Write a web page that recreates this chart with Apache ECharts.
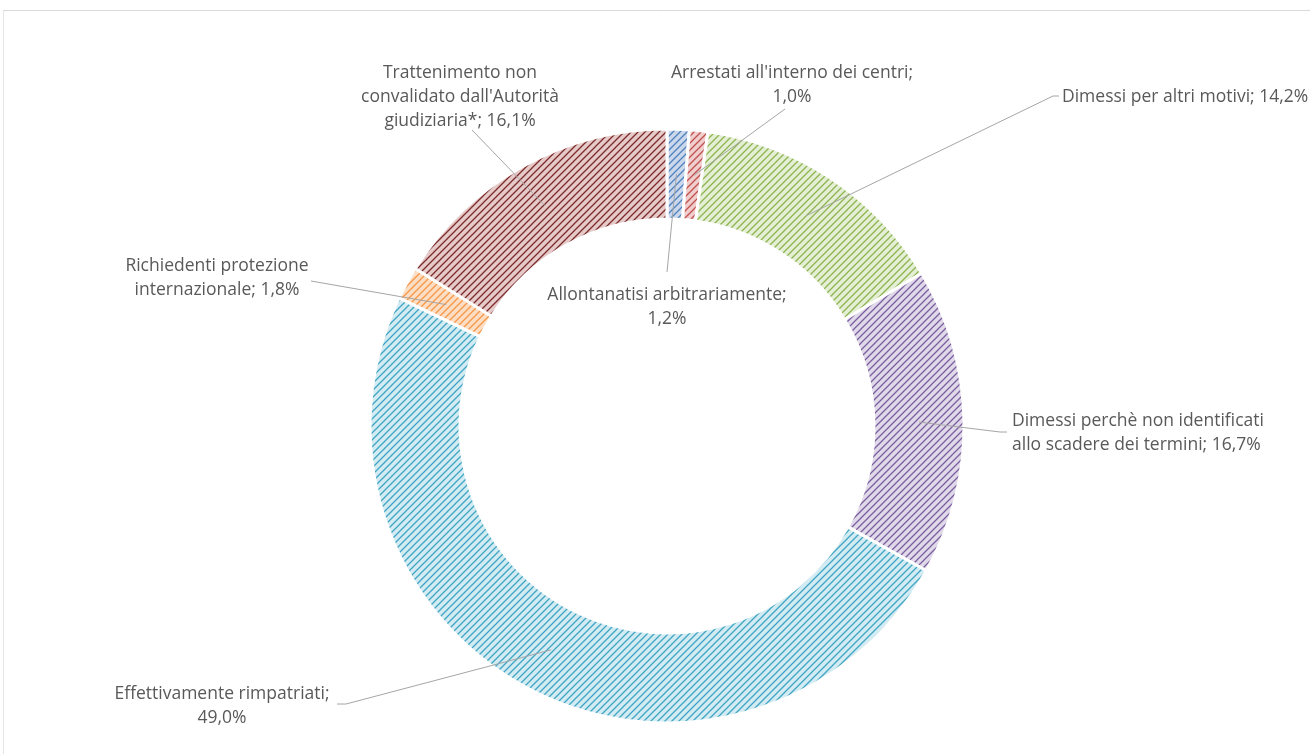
<!DOCTYPE html>
<html>
<head>
<meta charset="utf-8">
<script src="https://cdn.jsdelivr.net/npm/echarts@6/dist/echarts.min.js"></script>
<style>
html,body{margin:0;padding:0;background:#fff;}
#chart{width:1310px;height:754px;}
</style>
</head>
<body>
<div id="chart"></div>
<script>
// ---- data ----
const categories = [
  'Allontanatisi arbitrariamente',
  "Arrestati all'interno dei centri",
  'Dimessi per altri motivi',
  'Dimessi perchè non identificati allo scadere dei termini',
  'Effettivamente rimpatriati',
  'Richiedenti protezione internazionale',
  "Trattenimento non convalidato dall'Autorità giudiziaria*"
];
const values = [1.2, 1.0, 14.2, 16.7, 49.0, 1.8, 16.1];

// ---- styling / layout (not data) ----
const fgColors = ['#4F81BD', '#C0504D', '#8DB44F', '#7A5E9E', '#3FA5C2', '#F79646', '#7B2C2A'];
const bgColors = ['#CBD8EC', '#F0CECD', '#E4EFD5', '#E0D9E9', '#D3EBF2', '#FCDEC5', '#E6CACA'];
const wrapAfter = [[2], [4], [], [4], [2], [2], [2, 4]];
const CX = 667, CY = 426, R_OUT = 297, R_IN = 207;
const labelPlace = [
  {x: 667, y: 283, align: 'center', end: [[667, 272]]},
  {x: 792, y: 61, align: 'center', end: [[785, 109]]},
  {x: 1062, y: 85, align: 'left', end: [[1053, 96], [1059, 96]]},
  {x: 1012, y: 409, align: 'left', end: [[1000, 432], [1007, 432]]},
  {x: 222, y: 682, align: 'center', end: [[346, 704], [337, 704]]},
  {x: 217, y: 254, align: 'center', end: [[311, 281]]},
  {x: 460, y: 61, align: 'center', end: [[472, 130]]}
];

function makePattern(bg, fg) {
  const s = 7;
  const c = document.createElement('canvas');
  c.width = s; c.height = s;
  const g = c.getContext('2d');
  g.fillStyle = bg; g.fillRect(0, 0, s, s);
  g.strokeStyle = fg; g.lineWidth = 1.3;
  g.beginPath();
  for (const k of [-s, 0, s]) {
    g.moveTo(k - 1, s + 1);
    g.lineTo(k + s + 1, -1);
  }
  g.stroke();
  return c;
}

function fmtVal(v) { return v.toFixed(1).replace('.', ',') + '%'; }
function wrapText(text, breaks) {
  const w = text.split(' ');
  let out = '';
  w.forEach((word, i) => {
    if (i > 0) out += breaks.includes(i) ? '\n' : ' ';
    out += word;
  });
  return out;
}

const total = values.reduce((a, b) => a + b, 0);
const midAngles = [];
{
  let acc = 0;
  values.forEach(v => { midAngles.push((acc + v / 2) / total * 2 * Math.PI); acc += v; });
}

const chart = echarts.init(document.getElementById('chart'), null, {renderer: 'canvas'});
const sliceData = categories.map((name, i) => ({
  name: name,
  value: values[i],
  itemStyle: {color: {image: makePattern(bgColors[i], fgColors[i]), repeat: 'repeat'}}
}));
const labelData = categories.map((name, i) => ({name: name, value: values[i]}));

chart.setOption({
  animation: false,
  backgroundColor: '#ffffff',
  graphic: [
    {type: 'line', shape: {x1: 3, y1: 10.5, x2: 1310, y2: 10.5}, style: {stroke: '#D9D9D9', lineWidth: 1}},
    {type: 'line', shape: {x1: 3.5, y1: 10.5, x2: 3.5, y2: 754}, style: {stroke: '#E6E6E6', lineWidth: 1}}
  ],
  series: [{
    type: 'pie',
    z: 2,
    center: [CX, CY],
    radius: [R_IN, R_OUT],
    startAngle: 90,
    clockwise: true,
    silent: true,
    itemStyle: {borderColor: '#ffffff', borderWidth: 3},
    label: {show: false},
    labelLine: {show: false},
    data: sliceData
  }, {
    type: 'pie',
    z: 5,
    center: [CX, CY],
    radius: [R_IN, R_OUT],
    startAngle: 90,
    clockwise: true,
    silent: true,
    avoidLabelOverlap: false,
    itemStyle: {color: 'rgba(0,0,0,0)', borderWidth: 0},
    label: {
      show: true,
      position: 'outside',
      fontFamily: 'Open Sans',
      fontSize: 17.5,
      lineHeight: 24,
      color: '#595959',
      formatter: p => wrapText(p.name + '; ' + fmtVal(p.value), wrapAfter[p.dataIndex])
    },
    labelLine: {show: true, lineStyle: {color: '#A6A6A6', width: 1}},
    labelLayout: function (params) {
      const i = params.dataIndex;
      const L = labelPlace[i];
      const a = midAngles[i];
      const rm = (R_IN + R_OUT) / 2;
      const start = [CX + rm * Math.sin(a), CY - rm * Math.cos(a)];
      const pts = [start].concat(L.end);
      while (pts.length < 3) pts.push(pts[pts.length - 1].slice());
      return {
        x: L.x, y: L.y, align: L.align, verticalAlign: 'top',
        labelLinePoints: pts
      };
    },
    data: labelData
  }]
});
</script>
</body>
</html>
